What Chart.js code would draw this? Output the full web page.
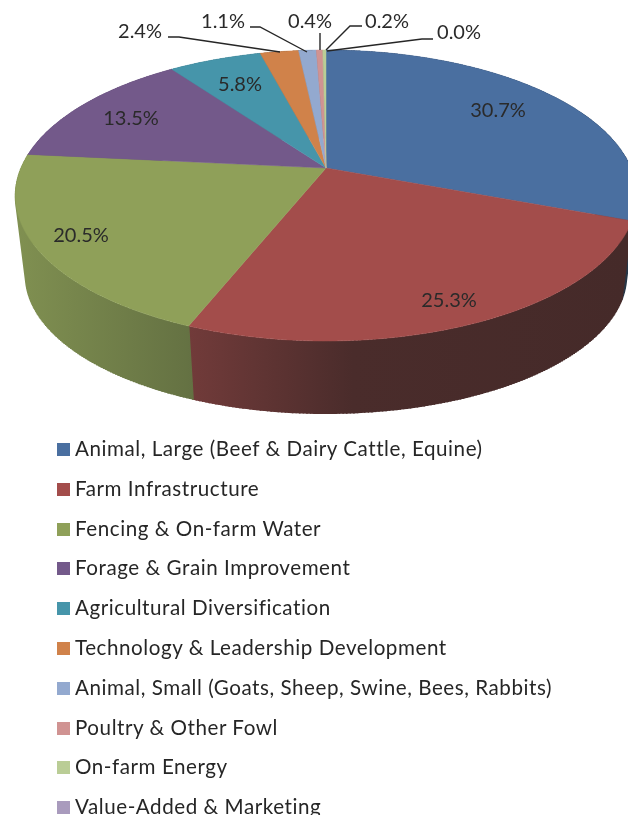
<!DOCTYPE html>
<html>
<head>
<meta charset="utf-8">
<style>
  html, body { margin: 0; padding: 0; background: #fff; overflow: hidden; width: 628px; height: 815px; }
  canvas { display: block; position: absolute; left: 0; top: 0; }
  #legend { position: absolute; left: 57px; top: 429px; margin: 0; padding: 0; list-style: none;
            font: 20.6px/39.8px Lato; letter-spacing: 0.55px; color: #262626; white-space: nowrap; }
  #legend span { display: inline-block; width: 13px; height: 13px; margin-right: 5px; }
</style>
<script src="https://cdn.jsdelivr.net/npm/chart.js@4/dist/chart.umd.js"></script>
</head>
<body>
<canvas id="pie" width="628" height="430"></canvas>
<ul id="legend"></ul>
<script>
const categories = [
  'Animal, Large (Beef & Dairy Cattle, Equine)',
  'Farm Infrastructure',
  'Fencing & On-farm Water',
  'Forage & Grain Improvement',
  'Agricultural Diversification',
  'Technology & Leadership Development',
  'Animal, Small (Goats, Sheep, Swine, Bees, Rabbits)',
  'Poultry & Other Fowl',
  'On-farm Energy',
  'Value-Added & Marketing'
];
const shares = [30.7, 25.3, 20.5, 13.5, 5.8, 2.4, 1.1, 0.4, 0.2, 0.0];
const colors = ['#4a6fa0', '#a34d4b', '#8fa059', '#73598a', '#4695aa', '#d0824a', '#93a9cf', '#d09392', '#bacd96', '#a99bbd'];

// label centres, same order as shares
const labelSpots = [[498, 111], [449, 301], [81, 236], [131, 119], [240, 85], [140, 32], [223, 22], [310, 22], [387, 22], [459, 33]];
// leader lines for the small slices
const leaders = [
  null, null, null, null, null,
  [[168, 37], [179, 37], [280, 52]],
  [[250, 27], [260, 27], [307, 52]],
  [[320, 33], [320, 50]],
  [[362, 26], [350, 26], [326, 50]],
  [[433, 39], [422, 39], [327, 51]]
];
// wall darkness across the width: [gradient position, amount of dark]
const wallShade = [[0, 0.12], [0.28, 0.34], [0.55, 0.62], [1, 0.66]];

// perspective of the tilted disc, lower rim is drawn a bit smaller
const cx = 326, cy = 168, persp = 0.189;
const rx = 305, ry = 140.3;
const lowRx = 295, lowRy = 133, wallDrop = 82;

function project(angle, lower) {
  const u = Math.cos(angle), v = Math.sin(angle);
  const w = 1 - persp * v;
  if (lower) return [cx + lowRx * u / w, cy + wallDrop + lowRy * v / w];
  return [cx + rx * u / w, cy + ry * v / w];
}

function arcPoints(start, end, lower) {
  const steps = Math.max(2, Math.ceil(Math.abs(end - start) / 0.01));
  const pts = [];
  for (let i = 0; i <= steps; i++) {
    pts.push(project(start + (end - start) * i / steps, lower));
  }
  return pts;
}

function tracePoints(ctx, pts) {
  pts.forEach((p, i) => i ? ctx.lineTo(p[0], p[1]) : ctx.moveTo(p[0], p[1]));
}

function darken(hex, amount) {
  const parts = [1, 3, 5].map(k => parseInt(hex.substr(k, 2), 16));
  const dark = [20, 24, 24];
  const mixed = parts.map((c, k) => Math.round(c * (1 - amount) + dark[k] * amount));
  return `rgb(${mixed[0]},${mixed[1]},${mixed[2]})`;
}

const pie3d = {
  id: 'pie3d',
  beforeDatasetsDraw(chart) {
    const ctx = chart.ctx;
    const arcs = chart.getDatasetMeta(0).data;

    // side walls, shaded darker to the right
    arcs.forEach((arc, i) => {
      const wall = ctx.createLinearGradient(16, 0, 628, 0);
      wallShade.forEach(s => wall.addColorStop(s[0], darken(colors[i], s[1])));
      const top = arcPoints(arc.startAngle, arc.endAngle, false);
      const bottom = arcPoints(arc.startAngle, arc.endAngle, true);
      ctx.fillStyle = wall;
      ctx.strokeStyle = wall;
      ctx.lineWidth = 1.5;
      ctx.beginPath();
      tracePoints(ctx, top.concat(bottom.slice().reverse()));
      ctx.closePath();
      ctx.fill();
      // rim to rim strokes fill the fold at the silhouette
      ctx.beginPath();
      top.forEach((p, k) => {
        ctx.moveTo(p[0], p[1]);
        ctx.lineTo(bottom[k][0], bottom[k][1]);
      });
      ctx.stroke();
    });

    // top face
    arcs.forEach((arc, i) => {
      ctx.beginPath();
      tracePoints(ctx, [[cx, cy]].concat(arcPoints(arc.startAngle, arc.endAngle, false)));
      ctx.closePath();
      ctx.fillStyle = colors[i];
      ctx.strokeStyle = colors[i];
      ctx.lineWidth = 0.5;
      ctx.fill();
      if (shares[i] > 0) ctx.stroke();
    });

    // leader lines
    ctx.strokeStyle = '#262626';
    ctx.lineWidth = 1.4;
    leaders.forEach(line => {
      if (!line) return;
      ctx.beginPath();
      tracePoints(ctx, line);
      ctx.stroke();
    });

    // value labels
    ctx.fillStyle = '#2a2a2a';
    ctx.font = '20px Lato';
    ctx.textAlign = 'center';
    ctx.textBaseline = 'middle';
    shares.forEach((val, i) => {
      ctx.fillText(val.toFixed(1) + '%', labelSpots[i][0], labelSpots[i][1]);
    });
    return false;
  }
};

new Chart(document.getElementById('pie'), {
  type: 'pie',
  data: {
    labels: categories,
    datasets: [{ data: shares, backgroundColor: colors, borderWidth: 0 }]
  },
  options: {
    responsive: false,
    animation: false,
    plugins: {
      tooltip: { enabled: false },
      legend: { display: false }
    }
  },
  plugins: [pie3d]
});

// legend lives in the page, one row per category
const legendEl = document.getElementById('legend');
categories.forEach((name, i) => {
  const row = document.createElement('li');
  const swatch = document.createElement('span');
  swatch.style.backgroundColor = colors[i];
  row.appendChild(swatch);
  row.appendChild(document.createTextNode(name));
  legendEl.appendChild(row);
});
</script>
</body>
</html>
